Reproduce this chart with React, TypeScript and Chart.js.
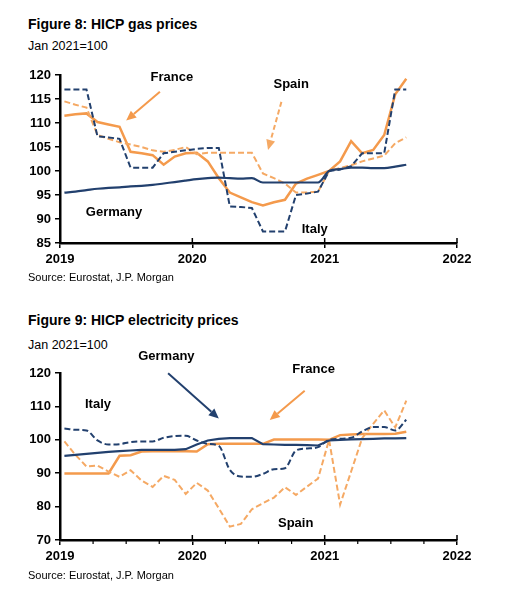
import React, { useEffect, useRef } from "react";
import { Chart, registerables } from "chart.js";

Chart.register(...registerables);

const FONT = '"Liberation Sans", Arial, Helvetica, sans-serif';
const NAVY = "#22406E";
const ORANGE = "#F49A4C";
const ORANGE_LIGHT = "#F5A964";

const months = [
  "2019-01", "2019-02", "2019-03", "2019-04", "2019-05", "2019-06",
  "2019-07", "2019-08", "2019-09", "2019-10", "2019-11", "2019-12",
  "2020-01", "2020-02", "2020-03", "2020-04", "2020-05", "2020-06",
  "2020-07", "2020-08", "2020-09", "2020-10", "2020-11", "2020-12",
  "2021-01", "2021-02", "2021-03", "2021-04", "2021-05", "2021-06",
  "2021-07", "2021-08",
];

const xTickLabels = ["2019", "2020", "2021", "2022"];

// Figure 8: HICP gas prices (Jan 2021 = 100)
const germanyGas = [95.5, 95.7, 96.0, 96.3, 96.5, 96.6, 96.8, 96.9, 97.1, 97.4, 97.7, 98.0, 98.3, 98.5, 98.6, 98.5, 98.4, 98.5, 97.6, 97.6, 97.6, 97.6, 97.6, 97.6, 100.0, 100.4, 100.7, 100.7, 100.6, 100.6, 100.9, 101.3];
const italyGas = [117, 117, 117, 107.2, 107, 106.7, 100.7, 100.7, 100.7, 103.7, 104, 104.3, 104.6, 104.8, 104.8, 92.6, 92.5, 92.3, 87.4, 87.4, 87.4, 95, 95.3, 95.7, 100, 100.3, 101, 103.7, 103.7, 103.7, 117, 117];
const spainGas = [114.5, 113.8, 113.2, 107.5, 106.7, 106.0, 105.5, 105.0, 104.3, 104.0, 104.4, 105.0, 103.5, 103.8, 103.8, 103.8, 103.8, 103.8, 99.5, 98.5, 97.4, 95.5, 95.5, 95.7, 100.0, 100.6, 101.2, 102.0, 102.6, 103.2, 105.8, 107.0];
const franceGas = [111.5, 111.8, 112.0, 110.2, 109.7, 109.2, 104.0, 103.7, 103.3, 101.3, 103.0, 103.7, 103.8, 102.0, 98.5, 95.5, 94.5, 93.5, 92.8, 93.5, 94.0, 97.4, 98.4, 99.2, 100.0, 102.0, 106.2, 103.7, 104.4, 107.5, 116.0, 119.2];

// Figure 9: HICP electricity prices (Jan 2021 = 100)
const germanyElec = [95.2, 95.5, 95.8, 96.1, 96.4, 96.6, 96.8, 97.0, 97.0, 97.0, 97.0, 97.2, 98.6, 99.8, 100.3, 100.5, 100.5, 100.5, 98.7, 98.6, 98.5, 98.5, 98.4, 98.3, 99.8, 100.0, 100.1, 100.2, 100.3, 100.4, 100.4, 100.5];
const italyElec = [103.4, 103.0, 102.8, 99.8, 98.6, 98.7, 99.3, 99.5, 99.5, 100.6, 101.1, 101.2, 99.8, 98.8, 98.2, 91.0, 89.0, 88.9, 89.8, 91.2, 91.5, 96.8, 97.4, 97.8, 100.0, 100.3, 100.6, 102.5, 103.8, 103.8, 102.8, 106.0];
const spainElec = [99.5, 95.5, 92.0, 92.3, 90.5, 88.9, 90.9, 87.8, 85.9, 89.2, 88.0, 83.8, 87.1, 84.8, 79.5, 74.0, 74.8, 79.2, 81.0, 82.7, 85.8, 83.5, 86.0, 88.4, 100.0, 80.6, 90.5, 100.5, 104.8, 108.8, 103.7, 111.7];
const franceElec = [89.9, 89.9, 89.9, 89.9, 89.9, 95.2, 95.4, 96.5, 96.6, 96.6, 96.6, 96.6, 96.5, 98.7, 98.8, 98.8, 98.8, 98.8, 98.8, 100.1, 100.1, 100.1, 100.1, 100.1, 100.0, 101.4, 101.6, 101.7, 101.7, 101.7, 101.8, 102.4];

// month label -> decimal year (observation dated early/mid month)
function toX(m: string): number {
  const [y, mo] = m.split("-").map(Number);
  return y + (mo - 1 + 0.4) / 12;
}

function pts(vals: number[]) {
  return vals.map((v, i) => ({ x: toX(months[i]), y: v }));
}

type Note =
  | { kind: "text"; text: string; x: number; y: number }
  | { kind: "arrow"; from: [number, number]; to: [number, number]; color: string; dash?: number[] };

const gasNotes: Note[] = [
  { kind: "text", text: "France", x: 2019.845, y: 119.4 },
  { kind: "arrow", from: [2019.755, 116.5], to: [2019.5, 110.5], color: ORANGE },
  { kind: "text", text: "Spain", x: 2020.747, y: 118.1 },
  { kind: "arrow", from: [2020.673, 114.4], to: [2020.572, 104.4], color: ORANGE_LIGHT, dash: [5, 3] },
  { kind: "text", text: "Germany", x: 2019.408, y: 91.35 },
  { kind: "text", text: "Italy", x: 2020.925, y: 87.9 },
];

const elecNotes: Note[] = [
  { kind: "text", text: "Germany", x: 2019.804, y: 125.1 },
  { kind: "arrow", from: [2019.817, 119.9], to: [2020.2, 106.4], color: NAVY },
  { kind: "text", text: "Italy", x: 2019.287, y: 110.7 },
  { kind: "text", text: "France", x: 2020.917, y: 121.0 },
  { kind: "arrow", from: [2020.849, 114.7], to: [2020.585, 105.9], color: ORANGE },
  { kind: "text", text: "Spain", x: 2020.781, y: 74.9 },
];

const decorPlugin = {
  id: "decor",
  afterDraw(chart: any, _args: any, opts: any) {
    const { ctx, chartArea: a } = chart;
    const xs = chart.scales.x;
    const ys = chart.scales.y;
    ctx.save();
    // upper half of the year tick marks
    ctx.strokeStyle = "#000";
    ctx.lineWidth = 1.5;
    xs.ticks.forEach((t: any) => {
      const px = xs.getPixelForValue(t.value);
      ctx.beginPath();
      ctx.moveTo(px, a.bottom);
      ctx.lineTo(px, a.bottom - 5);
      ctx.stroke();
    });
    if (opts.minor) {
      ctx.lineWidth = 1.2;
      for (let yr = xs.min; yr < xs.max; yr++) {
        for (let q = 1; q < 4; q++) {
          const px = xs.getPixelForValue(yr + q / 4);
          ctx.beginPath();
          ctx.moveTo(px, a.bottom);
          ctx.lineTo(px, a.bottom + 4);
          ctx.stroke();
        }
      }
    }
    const notes: Note[] = opts.notes || [];
    for (const n of notes) {
      if (n.kind === "text") {
        ctx.fillStyle = "#000";
        ctx.font = `bold 13px ${FONT}`;
        ctx.textAlign = "center";
        ctx.textBaseline = "middle";
        ctx.fillText(n.text, xs.getPixelForValue(n.x), ys.getPixelForValue(n.y));
      } else {
        const x1 = xs.getPixelForValue(n.from[0]);
        const y1 = ys.getPixelForValue(n.from[1]);
        const x2 = xs.getPixelForValue(n.to[0]);
        const y2 = ys.getPixelForValue(n.to[1]);
        const ang = Math.atan2(y2 - y1, x2 - x1);
        const hl = 10;
        const hw = 4.5;
        const bx = x2 - hl * Math.cos(ang);
        const by = y2 - hl * Math.sin(ang);
        ctx.strokeStyle = n.color;
        ctx.fillStyle = n.color;
        ctx.lineWidth = 2;
        ctx.setLineDash(n.dash || []);
        ctx.beginPath();
        ctx.moveTo(x1, y1);
        ctx.lineTo(bx, by);
        ctx.stroke();
        ctx.setLineDash([]);
        ctx.beginPath();
        ctx.moveTo(x2, y2);
        ctx.lineTo(bx + hw * Math.sin(ang), by - hw * Math.cos(ang));
        ctx.lineTo(bx - hw * Math.sin(ang), by + hw * Math.cos(ang));
        ctx.closePath();
        ctx.fill();
      }
    }
    ctx.restore();
  },
};

type Series = { label: string; data: number[]; color: string; width: number; dash?: number[]; smooth?: boolean };

function buildConfig(
  series: Series[],
  yMin: number,
  yMax: number,
  yStep: number,
  padTop: number,
  xAxisH: number,
  notes: Note[],
  minor: boolean
): any {
  return {
    type: "line",
    data: {
      datasets: series.map((s) => ({
        label: s.label,
        data: pts(s.data),
        borderColor: s.color,
        backgroundColor: s.color,
        borderWidth: s.width,
        borderDash: s.dash || [],
        pointRadius: 0,
        tension: s.smooth ? 0.3 : 0,
        cubicInterpolationMode: s.smooth ? "monotone" : "default",
        fill: false,
      })),
    },
    options: {
      animation: false,
      responsive: false,
      devicePixelRatio: 1,
      layout: { padding: { top: padTop, right: 58, left: 0, bottom: 0 } },
      plugins: {
        legend: { display: false },
        tooltip: { enabled: false },
        title: { display: false },
        decor: { notes, minor },
      },
      scales: {
        x: {
          type: "linear",
          min: 2019,
          max: 2022,
          afterFit: (s: any) => {
            s.height = xAxisH;
          },
          ticks: {
            stepSize: 1,
            autoSkip: false,
            maxRotation: 0,
            padding: 4,
            color: "#000",
            font: { family: FONT, size: 13, weight: "bold" },
            callback: (_v: any, i: number) => xTickLabels[i],
          },
          grid: { display: true, drawOnChartArea: false, drawTicks: true, tickLength: 5, color: "#000", lineWidth: 1.5 },
          border: { display: true, color: "#000", width: 2.5 },
        },
        y: {
          type: "linear",
          min: yMin,
          max: yMax,
          afterFit: (s: any) => {
            s.width = 60;
          },
          ticks: {
            stepSize: yStep,
            padding: 4,
            color: "#000",
            font: { family: FONT, size: 13, weight: "bold" },
          },
          grid: { display: true, drawOnChartArea: false, drawTicks: true, tickLength: 5, color: "#000", lineWidth: 1.5 },
          border: { display: true, color: "#000", width: 2.5 },
        },
      },
    },
    plugins: [decorPlugin],
  };
}

function ChartCanvas({ config, top, height }: { config: any; top: number; height: number }) {
  const ref = useRef<HTMLCanvasElement | null>(null);
  useEffect(() => {
    if (!ref.current) return;
    const chart = new Chart(ref.current, config);
    return () => chart.destroy();
  }, [config]);
  return (
    <canvas
      ref={ref}
      width={515}
      height={height}
      style={{ position: "absolute", left: 0, top, width: 515, height }}
    />
  );
}

const gasConfig = buildConfig(
  [
    { label: "Germany", data: germanyGas, color: NAVY, width: 2.2, smooth: true },
    { label: "Italy", data: italyGas, color: NAVY, width: 2, dash: [6, 3] },
    { label: "Spain", data: spainGas, color: ORANGE_LIGHT, width: 2, dash: [6, 3] },
    { label: "France", data: franceGas, color: ORANGE, width: 2.5 },
  ],
  85, 120, 5, 13, 29, gasNotes, false
);

const elecConfig = buildConfig(
  [
    { label: "Germany", data: germanyElec, color: NAVY, width: 2.2 },
    { label: "Italy", data: italyElec, color: NAVY, width: 2, dash: [6, 3], smooth: true },
    { label: "Spain", data: spainElec, color: ORANGE_LIGHT, width: 2, dash: [6, 3] },
    { label: "France", data: franceElec, color: ORANGE, width: 2.5 },
  ],
  70, 120, 10, 28, 30, elecNotes, true
);

const txt = (top: number, size: number, bold: boolean, text: string) => (
  <div
    style={{
      position: "absolute",
      left: 28,
      top,
      fontFamily: FONT,
      fontSize: size,
      fontWeight: bold ? "bold" : "normal",
      lineHeight: 1,
      color: "#000",
      whiteSpace: "nowrap",
    }}
  >
    {text}
  </div>
);

export default function App() {
  return (
    <div style={{ position: "absolute", left: 0, top: 0, width: 515, height: 599, background: "#fff", overflow: "hidden" }}>
      {txt(17, 14, true, "Figure 8: HICP gas prices")}
      {txt(40, 12.5, false, "Jan 2021=100")}
      <ChartCanvas config={gasConfig} top={62} height={210} />
      {txt(272, 11, false, "Source: Eurostat, J.P. Morgan")}
      {txt(313, 14, true, "Figure 9: HICP electricity prices")}
      {txt(338.5, 12.5, false, "Jan 2021=100")}
      <ChartCanvas config={elecConfig} top={345} height={225} />
      {txt(570, 11, false, "Source: Eurostat, J.P. Morgan")}
    </div>
  );
}
